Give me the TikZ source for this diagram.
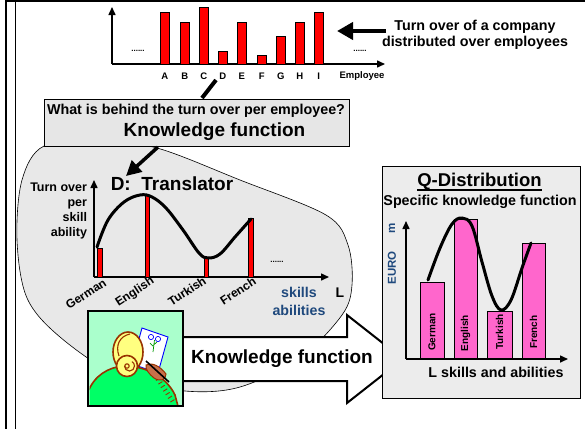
\documentclass[tikz,border=0pt]{standalone}
\usepackage{fontspec}
\setmainfont{Liberation Sans}
\usetikzlibrary{arrows.meta,calc}
\definecolor{blobgray}{RGB}{232,232,232}
\definecolor{boxgray}{RGB}{230,230,230}
\definecolor{qgray}{RGB}{236,236,236}
\definecolor{qpink}{RGB}{255,102,204}
\definecolor{dblue}{RGB}{31,73,125}
\definecolor{palegreen}{RGB}{170,255,204}
\definecolor{bodygreen}{RGB}{0,255,102}
\definecolor{hairyellow}{RGB}{255,255,128}
\definecolor{brownline}{RGB}{153,51,0}
\definecolor{handbrown}{RGB}{200,112,74}
\begin{document}
\begin{tikzpicture}[x=1pt,y=-1pt,
  every node/.style={inner sep=0pt,outer sep=0pt,font=\bfseries},
  redbar/.style={draw=black,fill=red,line width=0.8},
  pinkbar/.style={draw=black,fill=qpink,line width=1},
  axisarrow/.style={line width=1.5,-{Triangle[length=8pt,width=7pt]}},
  bigcurve/.style={line width=3,line cap=round},
  sz/.style={font=\bfseries\fontsize{#1}{#1}\selectfont}]
\useasboundingbox (0,0) rectangle (585,429);
% frame
\draw[line width=2.5] (5,1.2) -- (585,1.2);
\draw[line width=2] (6,0) -- (6,429);
\draw[line width=1] (15,0) -- (15,429);

% ---------- top bar chart ----------
\coordinate (o1) at (112,64);
\coordinate (y1) at (112,7);
\coordinate (x1) at (385,64);
\draw[axisarrow] (o1) -- (y1);
\draw[axisarrow] (o1) -- (x1);
\foreach \xl/\top/\name in {160/12/A,180/22/B,199/7/C,218/51/D,237/22/E,257/55/F,276/36/G,295/22/H,314/12/I}{
  \draw[redbar] (\xl,\top) rectangle ++(9.5,64-\top);
  \node[sz=9.5] (l\name) at (\xl+4.75,76.5) {\name};
}
\node[sz=9.5] (emp) at (362,76.5) {Employee};
\node[sz=8] (dotsL) at (138,51) {......};
\node[sz=8] (dotsR) at (360,51) {......};
\node[align=center,font=\bfseries\fontsize{14.3}{16}\selectfont] (tt) at (475,35) {Turn over of a company\\distributed over employees};
\coordinate (ttend) at (337,31);
\coordinate (ttstart) at (386,31);
\draw[line width=4,-{Triangle[length=16pt,width=17pt]}] (ttstart) -- (ttend);

% ---------- gray blob ----------
\draw[fill=blobgray,line width=0.6] plot[smooth cycle,tension=0.55] coordinates {
 (44,146) (100,142) (157,148) (240,180) (326,215) (348,245) (352,285)
 (342,315) (300,358) (240,387) (185,391) (120,377) (60,337) (27,298) (17,240) (22,180)};

% ---------- question box ----------
\node[draw=black,fill=boxgray,line width=1,minimum width=305pt,minimum height=47pt] (qbox) at (196.5,122.5) {};
\node[sz=14.3] (q1) at (196,111) {What is behind the turn over per employee?};
\node[sz=19] (q2) at (214.5,132) {Knowledge function};
\coordinate (lnend) at (216,80);
\coordinate (lnstart) at (202,98);
\draw[line width=4] (lnstart) -- (lnend);
\coordinate (dtip) at (126,176);
\coordinate (dstart) at (158,147);
\draw[line width=3.5,-{Triangle[length=15pt,width=15pt]}] (dstart) -- (dtip);

% ---------- D chart ----------
\coordinate (o2) at (94,277);
\draw[axisarrow] (o2) -- (94,180);
\draw[axisarrow] (o2) -- (329,277);
\draw[redbar] (97,248) rectangle (102,277);
\draw[redbar] (145,195) rectangle (149.5,277);
\draw[redbar] (204,258) rectangle (208.5,277);
\draw[redbar] (248,218) rectangle (253,277);
\draw[bigcurve] plot[smooth,tension=0.6] coordinates {(97,247) (108,220) (124,202) (140,195) (152,197) (166,208) (183,230) (199,253) (208,258) (220,254) (235,237) (251,219)};
\node[sz=19] (dt) at (172,184) {D:\ \ Translator};
\node[align=right,anchor=east,font=\bfseries\fontsize{12.5}{15}\selectfont] (tov) at (87,210.5) {Turn over\\per\\skill\\ability};
\node[sz=12,rotate=33] (dg) at (86,294) {German};
\node[sz=12,rotate=33] (de) at (135,292) {English};
\node[sz=12,rotate=33] (dtk) at (187,291) {Turkish};
\node[sz=12,rotate=33] (df) at (238,291) {French};
\node[sz=8] (dots2) at (277,262) {......};
\node[align=center,text=dblue,font=\bfseries\fontsize{14.2}{18}\selectfont] (sk) at (299,301) {skills\\abilities};
\node[sz=14] (lL) at (340,293) {L};

% ---------- big arrow ----------
\draw[fill=white,line width=2,line join=miter] (175,337) -- (347,337) -- (347,315) -- (403,359) -- (347,403) -- (347,381) -- (175,381) -- cycle;
\node[sz=19] (kf) at (282,359) {Knowledge function};

% ---------- picture ----------
\node[draw=black,fill=palegreen,line width=2.5,minimum width=95pt,minimum height=95pt] (pic) at (135.5,358.5) {};
\begin{scope}
\clip (89.5,312.5) rectangle (181.5,404.5);
% paper
\draw[blue,fill=white,line width=0.9] (142,328) -- (168,337) -- (158,373) -- (132,364) -- cycle;
\draw[blue,line width=0.7] (151,337) circle (2.6) (158,339) circle (2.6);
\draw[green!60!black,line width=0.7] (154.5,340) -- (153,352) (153,346) -- (150,343) (153.5,345) -- (157,342);
% body
\draw[brownline,fill=bodygreen,line width=1.6] (88,392) .. controls (94,376) and (108,367) .. (124,366)
  .. controls (145,366) and (166,376) .. (175,395) -- (179,410) -- (85,410) -- cycle;
\foreach \t in {0,1,...,6}{
  \draw[brownline,line width=0.9] ($(160,378)+(\t*2.4,\t*3.6)$) -- ++(-4,2.5);
}
% head
\draw[brownline,fill=hairyellow,line width=1.6] (128,352) ellipse [x radius=15,y radius=20];
\draw[brownline,fill=hairyellow,line width=1.6] (127,366) circle (10.5);
\draw[brownline,line width=1.1] (127,366) circle (2.2);
\draw[brownline,line width=1.1] (124.5,366) arc[start angle=180,end angle=-60,radius=5];
\draw[brownline,line width=1.1] (119,356) .. controls (115,345) and (120,336) .. (130,334);
% hand and pen
\draw[brownline,fill=handbrown,line width=1] (146,365) .. controls (152,362) and (160,366) .. (166,374)
  .. controls (166,380) and (160,382) .. (154,378) .. controls (149,374) and (145,369) .. (146,365) -- cycle;
\draw[black,line width=1.6] (146,361) -- (169,382);
\end{scope}
\draw[line width=2.5] (pic.north west) rectangle (pic.south east);

% ---------- Q distribution ----------
\node[draw=black,fill=qgray,line width=0.8,minimum width=198pt,minimum height=232pt] (qd) at (481,282) {};
\node[sz=18.5] (qt) at (479.5,182) {Q-Distribution};
\draw[line width=1.3] ([yshift=-3pt]qt.base west) -- ([yshift=-3pt]qt.base east);
\node[sz=14.3] (qs) at (480,202) {Specific knowledge function};
\coordinate (o3) at (406,359);
\draw[pinkbar] (420,282) rectangle (444,359);
\draw[pinkbar] (454,219) rectangle (477,359);
\draw[pinkbar] (487,311) rectangle (512,359);
\draw[pinkbar] (522,243) rectangle (545,359);
\draw[axisarrow] (o3) -- (406,221);
\draw[axisarrow] (o3) -- (568,359);
\node[sz=10,rotate=90] (qg) at (432,332) {German};
\node[sz=10,rotate=90] (qe) at (465.5,333) {English};
\node[sz=10,rotate=90] (qtk) at (499.5,332) {Turkish};
\node[sz=10,rotate=90] (qf) at (533.5,332) {French};
\draw[bigcurve] plot[smooth,tension=0.6] coordinates {(428,280) (440,248) (452,224) (462,218) (472,226) (482,262) (492,296) (501,310) (511,300) (522,268) (531,243)};
\node[sz=11.5,rotate=90,text=dblue] (euro) at (392,268) {EURO};
\node[sz=11.5,rotate=90,text=dblue] (mm) at (392,228) {m};
\node[sz=14.3] (ls) at (496,372) {L skills and abilities};
\end{tikzpicture}
\end{document}
